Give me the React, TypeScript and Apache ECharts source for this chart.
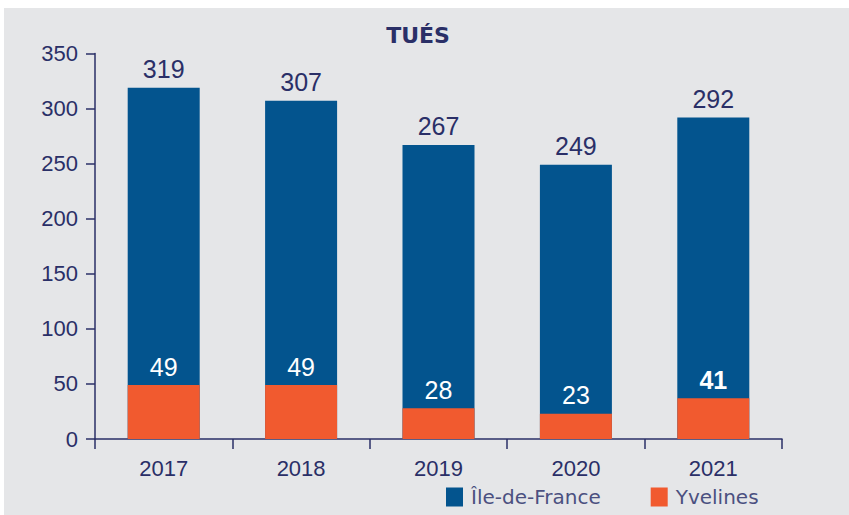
import React, { useEffect, useRef } from "react";
import * as echarts from "echarts";

const years = ["2017", "2018", "2019", "2020", "2021"];
const ileDeFrance = [319, 307, 267, 249, 292];
const yvelines = [49, 49, 28, 23, 37];
const yvelinesLabels = ["49", "49", "28", "23", "41"];
const yvelinesBold = [false, false, false, false, true];
const yTicks = { min: 0, max: 350, interval: 50 };

const NAVY = "#2a2f67";
const BLUE = "#03548e";
const ORANGE = "#f15a2f";
const BG = "#e5e6e8";
const NUM_FONT = "'Liberation Sans Narrow', 'Liberation Sans', Arial, sans-serif";
const AX_FONT = "'Liberation Sans', Arial, sans-serif";
const SANS = "'DejaVu Sans', 'Open Sans', sans-serif";

export default function App() {
  const ref = useRef<HTMLDivElement>(null);
  useEffect(() => {
    document.body.style.margin = "0";
    const chart = echarts.init(ref.current!, null, { renderer: "svg" });
    chart.setOption({
      animation: false,
      backgroundColor: "#ffffff",
      graphic: [
        { type: "rect", z: -10, silent: true, shape: { x: 4, y: 8, width: 845, height: 507 }, style: { fill: BG } },
      ],
      title: {
        text: "TUÉS",
        left: 413,
        textAlign: "center",
        top: 19,
        textStyle: { color: NAVY, fontSize: 22, fontWeight: "bold", fontFamily: SANS },
      },
      legend: {
        left: 441,
        top: 482,
        itemWidth: 17,
        itemHeight: 19,
        itemGap: 50,
        icon: "rect",
        textStyle: { color: "#4b5080", fontSize: 20, fontFamily: SANS, padding: [0, 0, 0, 3] },
        data: ["Île-de-France", "Yvelines"],
      },
      grid: { left: 95, right: 67, top: 53.5, bottom: 76, containLabel: false },
      xAxis: {
        type: "category",
        data: years,
        boundaryGap: true,
        axisLine: { lineStyle: { color: NAVY, width: 1.5 } },
        axisTick: { show: true, alignWithLabel: false, length: 10, lineStyle: { color: NAVY, width: 1.5 } },
        axisLabel: { color: NAVY, fontSize: 22, fontFamily: AX_FONT, margin: 18 },
      },
      yAxis: {
        type: "value",
        min: yTicks.min,
        max: yTicks.max,
        interval: yTicks.interval,
        splitLine: { show: false },
        axisLine: { show: true, lineStyle: { color: NAVY, width: 1.5 } },
        axisTick: { show: true, length: 9, lineStyle: { color: NAVY, width: 1.5 } },
        axisLabel: { color: NAVY, fontSize: 22, fontFamily: AX_FONT, margin: 17 },
      },
      series: [
        {
          name: "Île-de-France",
          type: "bar",
          data: ileDeFrance,
          barWidth: 72,
          barGap: "-100%",
          itemStyle: { color: BLUE },
          label: {
            show: true,
            position: "top",
            distance: 6,
            color: NAVY,
            fontSize: 25,
            fontFamily: NUM_FONT,
          },
        },
        {
          name: "Yvelines",
          type: "bar",
          barWidth: 72,
          barGap: "-100%",
          itemStyle: { color: ORANGE },
          data: yvelines.map((v, i) => ({
            value: v,
            label: {
              formatter: yvelinesLabels[i],
              fontWeight: yvelinesBold[i] ? "bold" : "normal",
            },
          })),
          label: {
            show: true,
            position: "top",
            distance: 6,
            color: "#ffffff",
            fontSize: 25,
            fontFamily: NUM_FONT,
          },
        },
      ],
    });
    return () => chart.dispose();
  }, []);
  return <div ref={ref} style={{ position: "absolute", left: 0, top: 0, width: 849, height: 515 }} />;
}
